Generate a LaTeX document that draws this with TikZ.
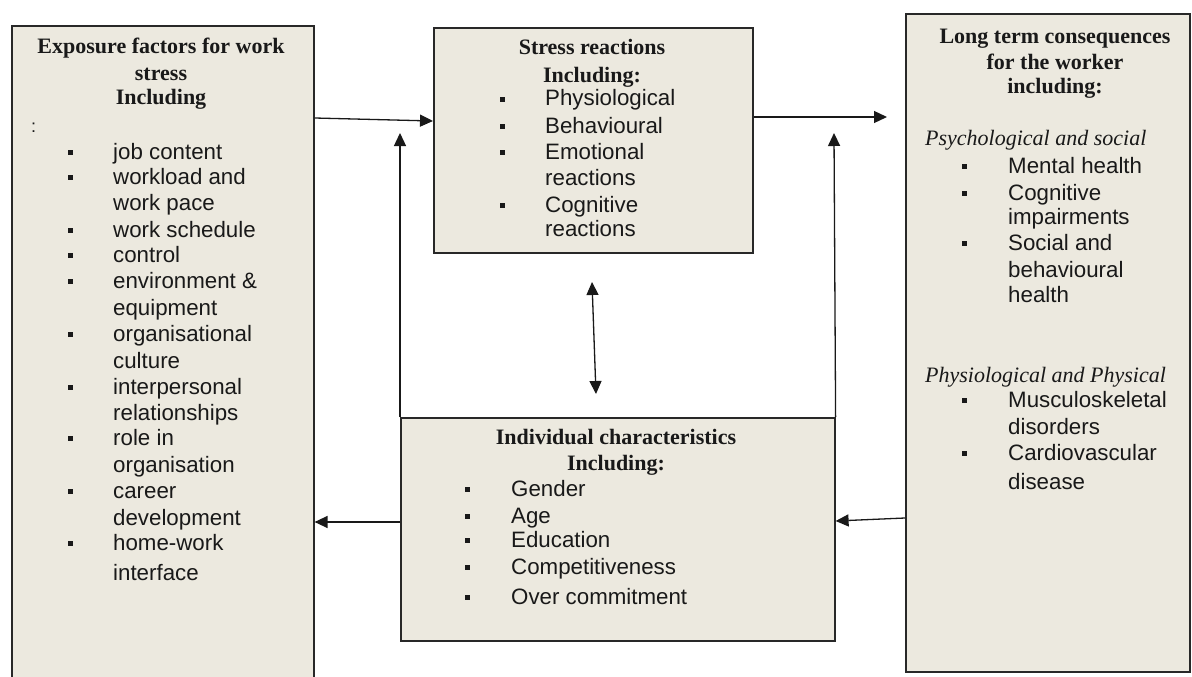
\documentclass[tikz,border=0pt]{standalone}
\usepackage{fontspec}
\setmainfont{Liberation Serif}
\newfontfamily\arialf{Liberation Sans}
\usetikzlibrary{arrows.meta}
\definecolor{boxfill}{RGB}{236,233,223}
\definecolor{edgecol}{RGB}{40,40,40}
\definecolor{inkcol}{RGB}{25,25,25}
\newcommand{\bsq}{\makebox[45.5pt][l]{\raisebox{4pt}{\rule{5.5pt}{5.5pt}}}}
\newcommand{\bsqw}{\makebox[46.5pt][l]{\raisebox{4pt}{\rule{5.5pt}{5.5pt}}}}
\begin{document}
\begin{tikzpicture}[x=1pt,y=-1pt,
  box/.style={draw=edgecol, line width=1.6pt, fill=boxfill, inner sep=0, anchor=north west},
  ttl/.style={font=\bfseries\fontsize{22}{25}\selectfont, anchor=base, inner sep=0, text=inkcol},
  itm/.style={font=\arialf\fontsize{22.3}{26}\selectfont, anchor=base west, inner sep=0, text=inkcol},
  sub/.style={font=\itshape\fontsize{22}{26}\selectfont, anchor=base west, inner sep=0, text=inkcol},
  arr/.style={draw=inkcol, line width=1.3pt, -{Triangle[length=13pt,width=12pt]}},
  darr/.style={draw=inkcol, line width=1.3pt, {Triangle[length=13pt,width=12pt]}-{Triangle[length=13pt,width=12pt]}},
]
\path[use as bounding box] (0,0) rectangle (1192,677);
\fill[white] (0,0) rectangle (1192,677);
\clip (0,0) rectangle (1192,677);

% boxes
\node[box, minimum width=302pt, minimum height=680pt] (expo) at (11,25) {};
\node[box, minimum width=319pt, minimum height=225pt] (stress) at (433,27) {};
\node[box, minimum width=434pt, minimum height=223pt] (indiv) at (400,417) {};
\node[box, minimum width=284pt, minimum height=658pt] (longt) at (905,13) {};

% exposure box text
\node[ttl] (et1) at (161,54) {Exposure factors for work};
\node[ttl] (et2) at (161,81) {stress};
\node[ttl] (et3) at (161,105) {Including};
\node[itm, font=\arialf\fontsize{18}{20}\selectfont] (ecolon) at (31,132) {:};
\foreach \t/\yy/\b [count=\i] in {job content/159/1, workload and/184/1, work pace/210/0,
  work schedule/237/1, control/262/1, environment \&/288/1, equipment/315/0,
  organisational/341/1, culture/368/0, interpersonal/394/1, relationships/420/0,
  role in/445/1, organisation/472/0, career/498/1, development/525/0,
  home-work/550/1, interface/580/0}
  {\node[itm] (e\i) at (67.5,\yy) {\ifnum\b=1 \bsq\else\hspace*{45.5pt}\fi\t};}

% stress box text
\node[ttl] (st1) at (592,55) {Stress reactions};
\node[ttl] (st2) at (592,82) {Including:};
\foreach \t/\yy/\b [count=\i] in {Physiological/106/1, Behavioural/133/1, Emotional/159/1,
  reactions/185/0, Cognitive/212/1, reactions/236/0}
  {\node[itm] (s\i) at (499.5,\yy) {\ifnum\b=1 \bsq\else\hspace*{45.5pt}\fi\t};}

% individual box text
\node[ttl] (it1) at (616,444) {Individual characteristics};
\node[ttl] (it2) at (616,470) {Including:};
\foreach \t/\yy [count=\i] in {Gender/496, Age/523, Education/547, Competitiveness/574, Over commitment/604}
  {\node[itm] (i\i) at (464.5,\yy) {\bsqw\t};}

% long term box text
\node[ttl] (lt1) at (1055,44) {Long term consequences};
\node[ttl] (lt2) at (1055,70) {for the worker};
\node[ttl] (lt3) at (1055,94) {including:};
\node[sub] (ls1) at (925,145) {Psychological and social};
\foreach \t/\yy/\b [count=\i] in {Mental health/173/1, Cognitive/200/1, impairments/224/0,
  Social and/250/1, behavioural/277/0, health/302/0}
  {\node[itm] (l\i) at (961.5,\yy) {\ifnum\b=1 \bsqw\else\hspace*{46.5pt}\fi\t};}
\node[sub] (ls2) at (925,382) {Physiological and Physical};
\foreach \t/\yy/\b [count=\i] in {Musculoskeletal/407/1, disorders/434/0, Cardiovascular/460/1, disease/489/0}
  {\node[itm] (m\i) at (961.5,\yy) {\ifnum\b=1 \bsqw\else\hspace*{46.5pt}\fi\t};}

% helper coordinates
\coordinate (ya) at (0,118);
\coordinate (yb) at (0,121);
\coordinate (yc) at (0,522);
\coordinate (yd) at (0,518);
\coordinate (ye) at (0,521);
\coordinate (tipR) at (887,117);
\coordinate (upL) at (400,133);
\coordinate (upR) at (834,133);
\coordinate (dTop) at (592,282);
\coordinate (dBot) at (596,394);

% connectors
\draw[arr] (expo.east |- ya) -- (stress.west |- yb);
\draw[arr] (stress.east |- tipR) -- (tipR);
\draw[arr] (indiv.north west) -- (upL);
\draw[arr] (indiv.north east) -- (upR);
\draw[darr] (dTop) -- (dBot);
\draw[arr] (indiv.west |- yc) -- (expo.east |- yc);
\draw[arr] (longt.west |- yd) -- (indiv.east |- ye);
\end{tikzpicture}
\end{document}
